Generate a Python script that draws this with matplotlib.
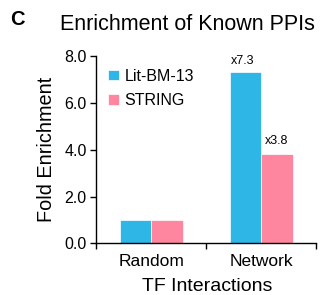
import numpy as np
import matplotlib.pyplot as plt

plt.rcParams['font.family'] = ['Liberation Sans', 'DejaVu Sans']

# data
categories = ['Random', 'Network']
litbm = [1.0, 7.3]
string = [1.0, 3.8]
series_names = ['Lit-BM-13', 'STRING']
annot_litbm = ['', 'x7.3']
annot_string = ['', 'x3.8']

blue = '#2db6e6'
pink = '#ff869e'

fig = plt.figure(figsize=(3.21, 2.95), dpi=100)
ax = fig.add_axes([0.3006, 0.1746, 0.684, 0.6366])

x = np.arange(len(categories)) + 0.5
w = 0.287
b1 = ax.bar(x - w/2, litbm, w, color=blue, edgecolor='white', linewidth=0.5, label=series_names[0])
b2 = ax.bar(x + w/2, string, w, color=pink, edgecolor='white', linewidth=0.5, label=series_names[1])

for rect, t in zip(b1, annot_litbm):
    if t:
        ax.text(rect.get_x() + rect.get_width()/2 - 0.03, rect.get_height() + 0.33, t,
                ha='center', va='baseline', fontsize=9)
for rect, t in zip(b2, annot_string):
    if t:
        ax.text(rect.get_x() + rect.get_width()/2, rect.get_height() + 0.42, t,
                ha='center', va='baseline', fontsize=9)

ax.set_xlim(0, 2)
ax.set_ylim(0, 8)
ax.set_yticks([0, 2, 4, 6, 8])
ax.set_yticklabels(['0.0', '2.0', '4.0', '6.0', '8.0'], fontsize=11.5)
ax.set_xticks([0, 1, 2])
ax.set_xticklabels([])
ax.set_xticks(x, minor=True)
ax.set_xticklabels(categories, minor=True, fontsize=12.5)
ax.tick_params(axis='x', which='minor', length=0, pad=7.5)
ax.tick_params(axis='both', which='major', length=4, width=1, direction='out', pad=3)
ax.spines['top'].set_visible(False)
ax.spines['right'].set_visible(False)
ax.spines['left'].set_linewidth(1)
ax.spines['bottom'].set_linewidth(1)

ax.set_ylabel('Fold Enrichment', fontsize=14.3, labelpad=6)
# x label placed under the category names
fig.text(0.645, 0.012, 'TF Interactions', fontsize=14, ha='center', va='baseline')

leg = ax.legend(loc='upper left', frameon=False, fontsize=11.5, handlelength=0.65,
                handleheight=0.65, handletextpad=0.35, labelspacing=0.6,
                bbox_to_anchor=(0.025, 0.965), borderaxespad=0)

fig.text(0.03, 0.915, 'C', fontsize=14.5, fontweight='bold', va='baseline')
fig.text(0.584, 0.898, 'Enrichment of Known PPIs', fontsize=15.5, ha='center', va='baseline')

fig.savefig('out.png', dpi=100)
